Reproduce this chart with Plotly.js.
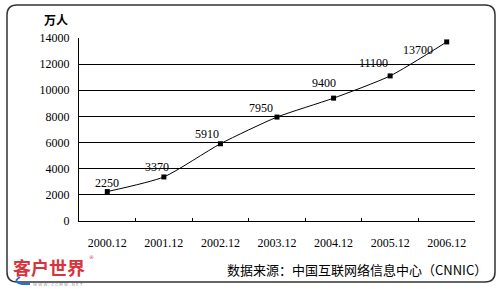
<!DOCTYPE html>
<html><head><meta charset="utf-8">
<script src="https://cdn.plot.ly/plotly-3.0.1.min.js"></script>
<style>html,body{margin:0;padding:0;background:#fff}#c{width:500px;height:289px}</style>
</head><body><div id="c"></div>
<script>
var categories = ["2000.12","2001.12","2002.12","2003.12","2004.12","2005.12","2006.12"];
var users = [2250, 3370, 5910, 7950, 9400, 11100, 13700];
var labelText = ["2250","3370","5910","7950","9400","11100","13700"];
var labelShiftX = [0, -7, -13, -16, -10, -17, -29];
var labelShiftY = [9, 10, 10, 9, 15, 13, -8];
var unitText = "万人";
var sourceText = "数据来源：中国互联网络信息中心（CNNIC）";

var W = 500, H = 289, M = {l:79, r:25, t:38, b:68};
var pw = W - M.l - M.r, ph = H - M.t - M.b;
function px(x){ return (x - M.l)/pw; }
function py(y){ return (H - M.b - y)/ph; }

var serif = "'Liberation Serif', serif";
var cjk = "'Noto Sans CJK SC', sans-serif";

function paperText(x, y, text, font, xanchor){
  return {xref:'paper', yref:'paper', x:px(x), y:py(y), text:text, showarrow:false,
    xanchor: xanchor || 'center', yanchor:'middle', font:font};
}

var annotations = users.map(function(v,i){
  return {x: i, y: v, xref:'x', yref:'y', text: labelText[i], showarrow:false,
    xanchor:'center', yanchor:'middle',
    xshift: labelShiftX[i], yshift: labelShiftY[i], font:{family:serif, size:12, color:'#000'}};
});
annotations.push(paperText(56, 19, unitText, {family:cjk, size:12, color:'#000', weight:'bold'}));
annotations.push(paperText(489, 269, sourceText, {family:cjk, size:13, color:'#000'}, 'right'));
annotations.push(paperText(49, 267, '客户世界', {family:cjk, size:18, color:'#d9343c', weight:'bold'}));
annotations.push(paperText(91, 257, '®', {family:'DejaVu Sans', size:5, color:'#d9343c'}));
annotations.push(paperText(58, 284, 'W W W . C C M W . N E T', {family:'DejaVu Sans', size:4, color:'#999'}));

// rounded frame
var x0=px(7), x1=px(495), y0=py(5), y1=py(282), rx=10/pw, ry=10/ph;
var frame = 'M '+(x0+rx)+' '+y0+' L '+(x1-rx)+' '+y0+' Q '+x1+' '+y0+' '+x1+' '+(y0-ry)+
  ' L '+x1+' '+(y1+ry)+' Q '+x1+' '+y1+' '+(x1-rx)+' '+y1+' L '+(x0+rx)+' '+y1+
  ' Q '+x0+' '+y1+' '+x0+' '+(y1+ry)+' L '+x0+' '+(y0-ry)+' Q '+x0+' '+y0+' '+(x0+rx)+' '+y0+' Z';
var swoosh = 'M '+px(20)+' '+py(277)+' Q '+px(12)+' '+py(282)+' '+px(22)+' '+py(284)+' L '+px(30)+' '+py(284);

var trace = {x: categories, y: users, type:'scatter', mode:'lines+markers',
  line:{color:'#000', width:1, shape:'spline', smoothing:0.6},
  marker:{symbol:'square', size:5, color:'#000'}, hoverinfo:'none'};

var layout = {
  width:W, height:H, margin:M, showlegend:false,
  paper_bgcolor:'#fff', plot_bgcolor:'#fff',
  xaxis:{type:'category', range:[-0.5,6.5], tickson:'boundaries', ticks:'inside', ticklen:3, tickcolor:'#000',
    showline:true, linecolor:'#000', linewidth:1, showgrid:false, zeroline:false,
    tickfont:{family:serif, size:12, color:'#000'}, ticklabelstandoff:11, fixedrange:true},
  yaxis:{range:[0,14000], dtick:2000, tick0:0, showline:true, linecolor:'#000', linewidth:1,
    exponentformat:'none', tickformat:'d',
    showgrid:true, gridcolor:'#000', gridwidth:1, zeroline:false, ticks:'',
    tickfont:{family:serif, size:12, color:'#000'}, ticklabelstandoff:6, fixedrange:true},
  annotations: annotations,
  shapes:[
    {type:'path', xref:'paper', yref:'paper', path:frame, line:{color:'#333', width:1.5}, layer:'below'},
    {type:'path', xref:'paper', yref:'paper', path:swoosh, line:{color:'#2a6fc9', width:2}}
  ]
};
Plotly.newPlot('c', [trace], layout, {staticPlot:true});
</script></body></html>
